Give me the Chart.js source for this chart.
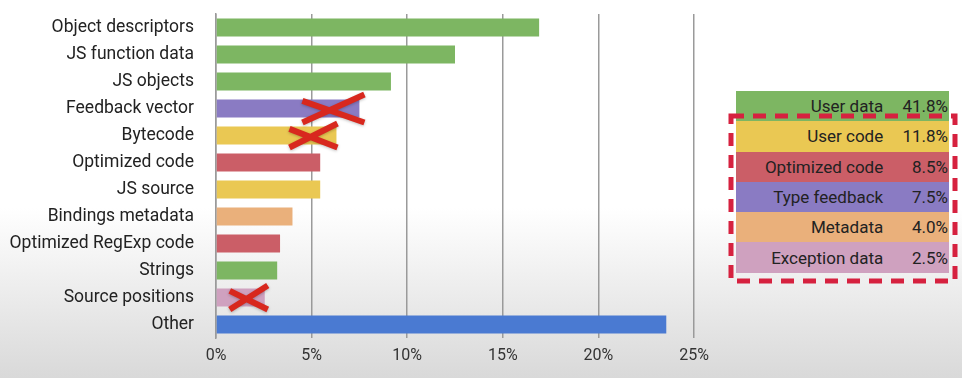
<!DOCTYPE html>
<html>
<head>
<meta charset="utf-8">
<script src="https://cdn.jsdelivr.net/npm/chart.js@4/dist/chart.umd.min.js"></script>
<style>
  html, body { margin: 0; padding: 0; }
  body {
    width: 962px; height: 378px; overflow: hidden; position: relative;
    background: linear-gradient(to bottom, #ffffff 0%, #ffffff 55%, #d9d9d9 100%);
    font-family: Roboto, "Noto Sans", sans-serif;
  }
  #wrap { position: absolute; left: 0; top: 0; width: 720px; height: 378px; }
  #legend {
    position: absolute; left: 736px; top: 91px; width: 213px;
    border-collapse: collapse; font-size: 17px; color: #222;
  }
  #legend td { height: 30.3px; padding: 0; text-align: right; }
  #legend td.name { width: 148px; }
  #legend td.pct { width: 65px; padding-right: 1px; }
  #dash { position: absolute; left: 0; top: 0; pointer-events: none; }
</style>
</head>
<body>
<div id="wrap"><canvas id="memChart" width="720" height="378"></canvas></div>
<table id="legend"></table>
<svg id="dash" width="962" height="378">
  <rect x="731" y="116" width="224" height="165" fill="none" stroke="#d6213f" stroke-width="5" stroke-dasharray="13 9"/>
</svg>
<script>
// Heap breakdown by object kind (% of heap)
const categories = ['Object descriptors', 'JS function data', 'JS objects', 'Feedback vector', 'Bytecode',
  'Optimized code', 'JS source', 'Bindings metadata', 'Optimized RegExp code', 'Strings', 'Source positions', 'Other'];
const values = [16.9, 12.5, 9.15, 7.5, 6.3, 5.45, 5.45, 4.0, 3.35, 3.2, 2.55, 23.55];
const barGroups = ['User data', 'User data', 'User data', 'Type feedback', 'User code',
  'Optimized code', 'User code', 'Metadata', 'Optimized code', 'User data', 'Exception data', 'Other'];
const crossedOut = ['Feedback vector', 'Bytecode', 'Source positions'];
const xTicks = [0, 5, 10, 15, 20, 25];

// Summary groups shown in the table on the right
const groups = ['User data', 'User code', 'Optimized code', 'Type feedback', 'Metadata', 'Exception data'];
const groupShares = [41.8, 11.8, 8.5, 7.5, 4.0, 2.5];

const groupColors = {
  'User data': '#7db662',
  'User code': '#eac853',
  'Optimized code': '#cb5e67',
  'Type feedback': '#8a7bc3',
  'Metadata': '#eab07b',
  'Exception data': '#cfa1bf',
  'Other': '#4a7ad2'
};

// legend table
const legend = document.getElementById('legend');
groups.forEach((g, i) => {
  const tr = document.createElement('tr');
  tr.style.background = groupColors[g];
  tr.innerHTML = '<td class="name">' + g + '</td><td class="pct">' + groupShares[i].toFixed(1) + '%</td>';
  legend.appendChild(tr);
});

// red X marks over the dropped categories
const crossStyle = {
  'Feedback vector': { dx: -26, w: 31, h: 14 },
  'Bytecode': { dx: -23, w: 24, h: 12 },
  'Source positions': { dx: -16, w: 19, h: 12 }
};
const crossPlugin = {
  id: 'crosses',
  afterDatasetsDraw(chart) {
    const ctx = chart.ctx;
    const meta = chart.getDatasetMeta(0);
    ctx.save();
    ctx.strokeStyle = '#d8281e';
    ctx.lineWidth = 6;
    ctx.shadowColor = 'rgba(0,0,0,0.25)';
    ctx.shadowBlur = 3;
    ctx.shadowOffsetY = 1;
    crossedOut.forEach(name => {
      const i = categories.indexOf(name);
      const bar = meta.data[i];
      const s = crossStyle[name];
      const cx = bar.x + s.dx, cy = bar.y;
      ctx.beginPath();
      ctx.moveTo(cx - s.w, cy - s.h * 0.55);
      ctx.lineTo(cx + s.w, cy + s.h);
      ctx.moveTo(cx - s.w, cy + s.h);
      ctx.lineTo(cx + s.w, cy - s.h);
      ctx.stroke();
    });
    ctx.restore();
  }
};

const ctx = document.getElementById('memChart').getContext('2d');
new Chart(ctx, {
  type: 'bar',
  data: {
    labels: categories,
    datasets: [{
      data: values,
      backgroundColor: barGroups.map(g => groupColors[g]),
      barPercentage: 0.66,
      categoryPercentage: 1.0
    }]
  },
  plugins: [crossPlugin],
  options: {
    indexAxis: 'y',
    responsive: false,
    animation: false,
    layout: { padding: { top: 14, right: 26, left: 0, bottom: 0 } },
    plugins: { legend: { display: false }, tooltip: { enabled: false } },
    scales: {
      x: {
        min: 0, max: 25,
        afterBuildTicks: scale => { scale.ticks = xTicks.map(v => ({ value: v })); },
        ticks: {
          callback: v => v + '%',
          color: '#333',
          font: { family: 'Roboto', size: 16 },
          padding: 8
        },
        grid: { color: '#9a9a9a', lineWidth: 1.5, drawTicks: false },
        border: { display: false },
        afterFit: scale => { scale.height = 40; }
      },
      y: {
        ticks: {
          color: '#222',
          font: { family: 'Roboto', size: 17.5 },
          padding: 22
        },
        grid: { display: false, drawTicks: false },
        border: { display: true, color: '#9a9a9a', width: 1.5 },
        afterFit: scale => {
          scale.width = 216;
          scale.paddingTop = 0;
          scale.paddingBottom = 0;
        }
      }
    }
  }
});
</script>
</body>
</html>
